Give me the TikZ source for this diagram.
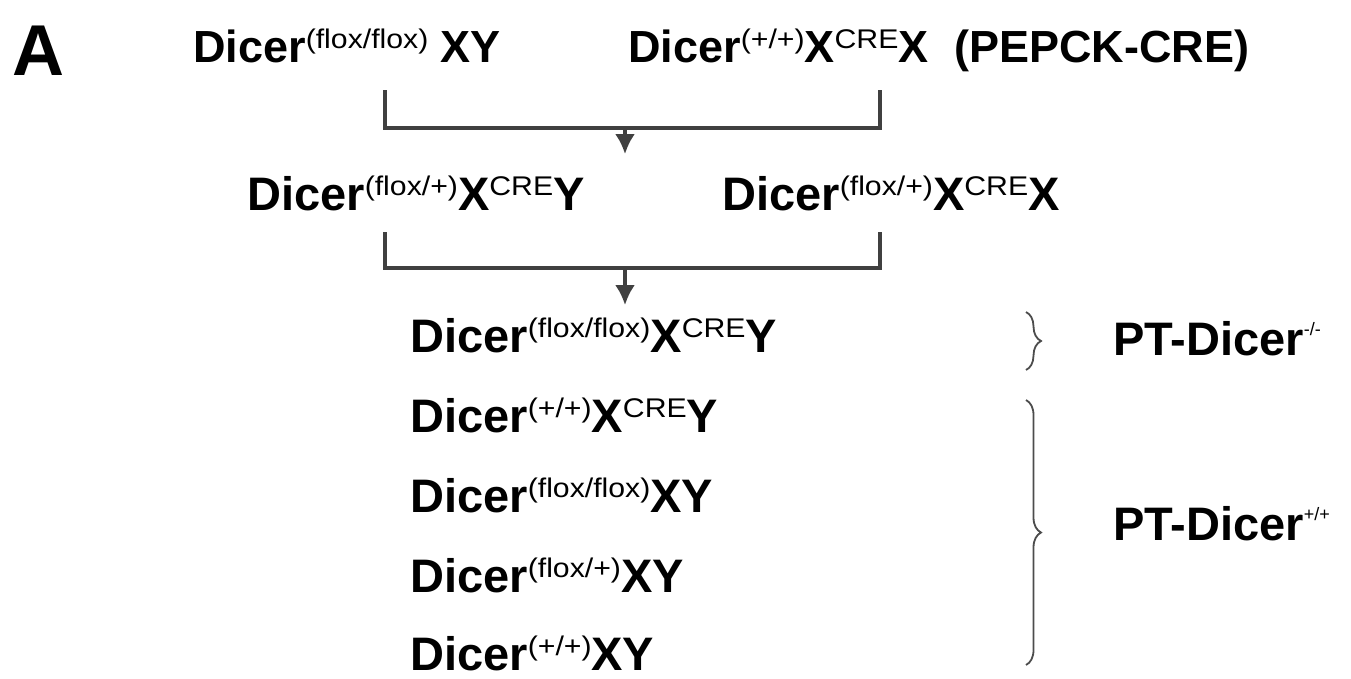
\documentclass[tikz,border=0pt]{standalone}
\usepackage{fontspec}
\setmainfont{Liberation Sans}
\usetikzlibrary{arrows.meta,decorations.pathreplacing}
% superscripted allele / transgene tag
\newcommand\allele[1]{\raisebox{0.3em}{\fontsize{27}{27}\selectfont\mdseries\scalebox{1.12}[1]{#1}}}
\newcommand\tag[1]{\raisebox{0.42em}{\fontsize{18}{18}\selectfont\mdseries #1}}
\tikzset{
  geno/.style={anchor=base west, inner sep=0pt, font=\fontsize{47}{47}\selectfont\bfseries},
  parent/.style={geno, font=\fontsize{45}{45}\selectfont\bfseries},
  link/.style={line width=3.2pt, draw=black!75},
  drop/.style={link, -{Latex[length=20pt,width=20pt]}},
  grp/.style={line width=1.8pt, draw=black!70, decorate, decoration={brace, amplitude=15pt}},
}
\begin{document}
\begin{tikzpicture}[x=1pt,y=-1pt]
\useasboundingbox (0,0) rectangle (1351,678);
\node[anchor=base west, inner sep=0pt, font=\fontsize{72}{72}\selectfont\bfseries] (lbl) at (12,75) {A};

% parental cross
\node[parent] (p1) at (193,62) {Dicer\allele{(flox/flox)} XY};
\node[parent] (p2) at (628,62) {Dicer\allele{(+/+)}X\allele{CRE}X\hspace{26pt}(PEPCK-CRE)};
\coordinate (a1) at (385,90);
\coordinate (a2) at (880,90);
\coordinate (j1) at (625,128);
\coordinate (t1) at (625,154);
\draw[link] (a1) |- (j1) -| (a2);
\draw[drop] (j1) -- (t1);

% F1 generation
\node[geno] (f1) at (247,210) {Dicer\allele{(flox/+)}X\allele{CRE}Y};
\node[geno] (f2) at (722,210) {Dicer\allele{(flox/+)}X\allele{CRE}X};
\coordinate (b1) at (385,232);
\coordinate (b2) at (880,232);
\coordinate (j2) at (625,268);
\coordinate (t2) at (625,305);
\draw[link] (b1) |- (j2) -| (b2);
\draw[drop] (j2) -- (t2);

% F2 offspring
\node[geno] (o1) at (410,352) {Dicer\allele{(flox/flox)}X\allele{CRE}Y};
\node[geno] (o2) at (410,432) {Dicer\allele{(+/+)}X\allele{CRE}Y};
\node[geno] (o3) at (410,512) {Dicer\allele{(flox/flox)}XY};
\node[geno] (o4) at (410,592) {Dicer\allele{(flox/+)}XY};
\node[geno] (o5) at (410,670) {Dicer\allele{(+/+)}XY};

% phenotype groups
\coordinate (k1) at (1026,312);
\coordinate (k2) at (1026,370);
\coordinate (k3) at (1026,400);
\coordinate (k4) at (1026,665);
\draw[grp] (k1) -- (k2);
\draw[grp] (k3) -- (k4);
\node[geno] (g1) at (1113,355) {PT-Dicer\tag{-/-}};
\node[geno] (g2) at (1113,540) {PT-Dicer\tag{+/+}};
\end{tikzpicture}
\end{document}
